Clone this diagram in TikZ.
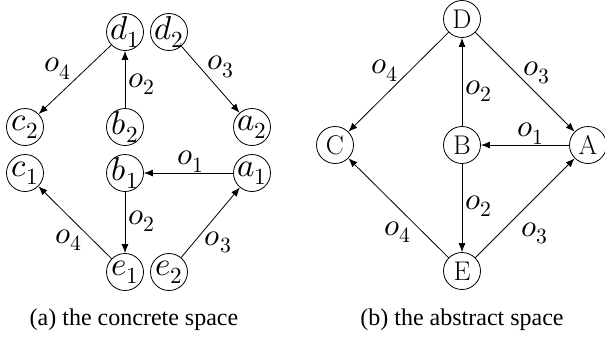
\documentclass[tikz,border=0pt]{standalone}
\usepackage{unicode-math}
\setmathfont{Latin Modern Math}
\newfontfamily\capfont{Liberation Serif}
\usetikzlibrary{arrows.meta}
\begin{document}
\begin{tikzpicture}[x=1pt,y=-1pt,
  st/.style={circle,draw,line width=0.8pt,minimum size=37pt,inner sep=-8pt,font=\fontsize{33}{37}\selectfont},
  stu/.style={st,font=\fontsize{27}{31}\selectfont},
  arr/.style={line width=0.8pt,-{Latex[length=9pt,width=7pt]}},
  lab/.style={font=\fontsize{31}{35}\selectfont,inner sep=2pt},
  captext/.style={font=\capfont\fontsize{24}{28}\selectfont}]
\useasboundingbox (0,0) rectangle (605,341);
% (a) concrete space
\node[st] (d1) at (125,32) {$d_1$};
\node[st] (d2) at (169,32) {$d_2$};
\node[st] (c2) at (25,127) {$c_2$};
\node[st] (b2) at (125,127) {$b_2$};
\node[st] (a2) at (252,127) {$a_2$};
\node[st] (c1) at (25,173) {$c_1$};
\node[st] (b1) at (125,173) {$b_1$};
\node[st] (a1) at (252,173) {$a_1$};
\node[st] (e1) at (125,272) {$e_1$};
\node[st] (e2) at (169,272) {$e_2$};
\node[captext] (capa) at (134,320) {(a) the concrete space};
\draw[arr] (d1) -- node[lab,above left,pos=0.55,xshift=2pt,yshift=1pt] {$o_4$} (c2);
\draw[arr] (b2) -- node[lab,right,pos=0.42,xshift=1pt] {$o_2$} (d1);
\draw[arr] (d2) -- node[lab,above right,pos=0.5,xshift=-5pt,yshift=-1pt] {$o_3$} (a2);
\draw[arr] (a1) -- node[lab,above,pos=0.48,yshift=-2pt] {$o_1$} (b1);
\draw[arr] (b1) -- node[lab,right,pos=0.48,xshift=1pt] {$o_2$} (e1);
\draw[arr] (e1) -- node[lab,below left,pos=0.45,xshift=6pt,yshift=-1pt] {$o_4$} (c1);
\draw[arr] (e2) -- node[lab,below right,pos=0.45,xshift=-5pt,yshift=-3pt] {$o_3$} (a1);
% (b) abstract space
\node[stu] (D) at (462,19) {D};
\node[stu] (C) at (335,145) {C};
\node[stu] (B) at (462,145) {B};
\node[stu] (A) at (588,145) {A};
\node[stu] (E) at (462,271) {E};
\node[captext] (capb) at (462,320) {(b) the abstract space};
\draw[arr] (D) -- node[lab,above left,pos=0.55,xshift=7pt,yshift=3pt] {$o_4$} (C);
\draw[arr] (B) -- node[lab,right,pos=0.42,xshift=1pt,yshift=-2pt] {$o_2$} (D);
\draw[arr] (D) -- node[lab,above right,pos=0.5,xshift=-4pt,yshift=-4pt] {$o_3$} (A);
\draw[arr] (A) -- node[lab,above,pos=0.48,xshift=4pt,yshift=-2pt] {$o_1$} (B);
\draw[arr] (B) -- node[lab,right,pos=0.48,xshift=1pt] {$o_2$} (E);
\draw[arr] (E) -- node[lab,below left,pos=0.45,xshift=10pt,yshift=-6pt] {$o_4$} (C);
\draw[arr] (E) -- node[lab,below right,pos=0.45,xshift=-1pt,yshift=-7pt] {$o_3$} (A);
\end{tikzpicture}
\end{document}
